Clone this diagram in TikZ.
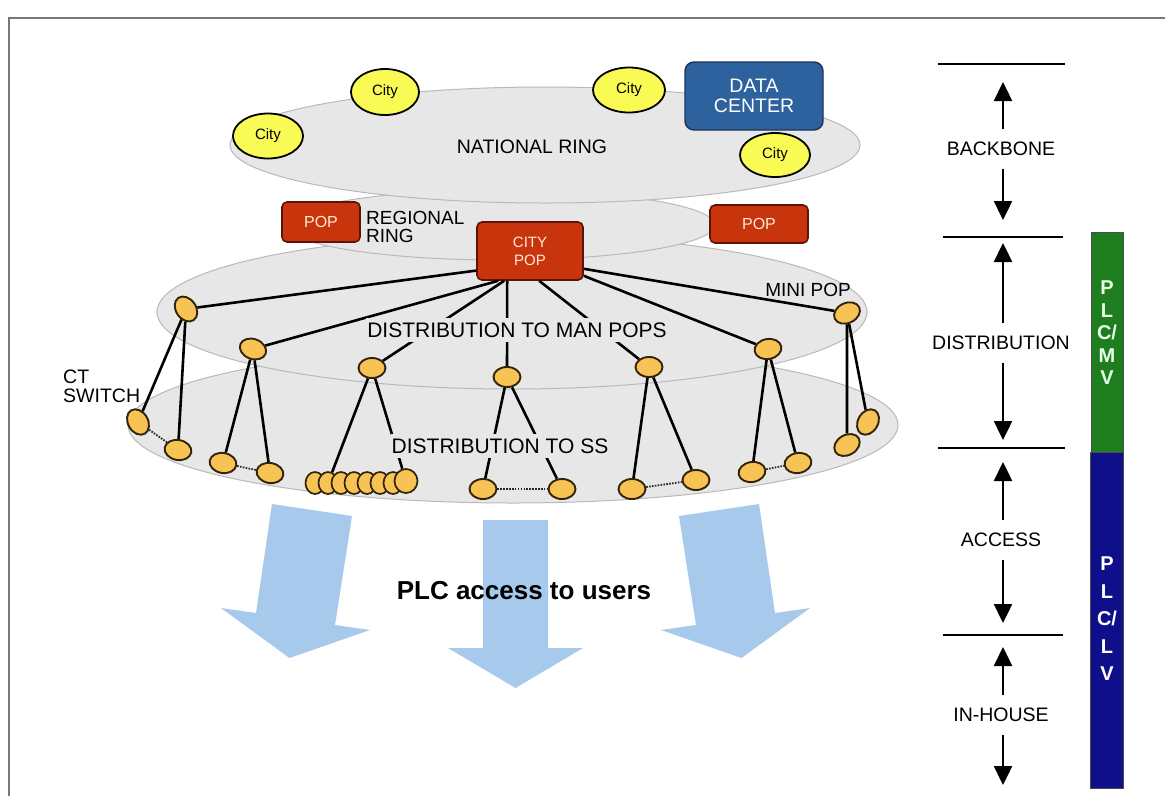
\documentclass[tikz,border=0pt]{standalone}
\usepackage{fontspec}
\setmainfont{Liberation Sans}
\usetikzlibrary{shapes.geometric,arrows.meta}
\definecolor{ringgray}{RGB}{231,231,231}
\definecolor{ringedge}{RGB}{185,185,185}
\definecolor{cityyellow}{RGB}{250,250,85}
\definecolor{popred}{RGB}{200,52,12}
\definecolor{popedge}{RGB}{90,20,10}
\definecolor{dcblue}{RGB}{46,98,158}
\definecolor{dcedge}{RGB}{30,50,90}
\definecolor{nodeorange}{RGB}{247,195,85}
\definecolor{nodeedge}{RGB}{50,35,10}
\definecolor{arrowblue}{RGB}{166,201,236}
\definecolor{mvgreen}{RGB}{30,125,30}
\definecolor{lvblue}{RGB}{15,15,140}
\definecolor{framegray}{RGB}{120,120,120}
\definecolor{popcream}{RGB}{255,235,215}
\tikzset{
  ring/.style={draw=ringedge, fill=ringgray, line width=1pt},
  city/.style={ellipse, draw=black, line width=1.8pt, fill=cityyellow, minimum width=70pt, minimum height=45pt, inner sep=0pt, font=\fontsize{15pt}{15pt}\selectfont},
  popbox/.style={rectangle, rounded corners=5pt, draw=popedge, line width=1.6pt, fill=popred, text=popcream, inner sep=0pt, align=center},
  dcbox/.style={rectangle, rounded corners=9pt, draw=dcedge, line width=1.4pt, fill=dcblue, text=white, inner sep=0pt, align=center, font=\fontsize{19.5pt}{20pt}\selectfont},
  mnode/.style={ellipse, draw=nodeedge, line width=1.9pt, fill=nodeorange, minimum width=27pt, minimum height=20pt, inner sep=0pt},
  cnode/.style={ellipse, draw=nodeedge, line width=1.7pt, fill=nodeorange, minimum width=19pt, minimum height=22pt, inner sep=0pt},
  conn/.style={line width=2.6pt, black},
  dotline/.style={line width=1.8pt, black!85, dash pattern=on 1.6pt off 1.3pt},
  lbl/.style={font=\fontsize{19.5pt}{19.5pt}\selectfont, inner sep=0pt},
  graylbl/.style={font=\fontsize{21pt}{21pt}\selectfont, fill=ringgray, inner xsep=1pt, inner ysep=5pt},
  layerlbl/.style={font=\fontsize{19.5pt}{19.5pt}\selectfont, inner xsep=2pt, inner ysep=13pt},
  layerarrow/.style={line width=2.4pt, -{Triangle[width=18pt,length=19pt]}},
  sepline/.style={line width=2.2pt, black},
  bartext/.style={text=white, font=\bfseries\fontsize{20pt}{22.5pt}\selectfont, align=center, inner sep=0pt}
}
\begin{document}
\begin{tikzpicture}[x=1pt,y=-1pt]
\useasboundingbox (0,0) rectangle (1165,796);
\fill[white] (0,0) rectangle (1165,796);
% frame
\draw[framegray, line width=2pt] (9,796) -- (9,18) -- (1165,18);

% rings (lowest first)
\draw[ring] (513,425) ellipse [x radius=385pt, y radius=78pt];
\draw[ring] (512,312) ellipse [x radius=355pt, y radius=77pt];
\draw[ring] (500,225) ellipse [x radius=215pt, y radius=35pt];
\draw[ring] (545,145) ellipse [x radius=315pt, y radius=58pt];

% backbone nodes
\node[city] (city1) at (268,136) {City};
\node[city, minimum width=68pt, minimum height=46pt] (city2) at (385,92) {City};
\node[city, minimum width=72pt] (city3) at (629,90) {City};
\node[city, minimum height=44pt] (city4) at (775,155) {City};
\node[dcbox, minimum width=138pt, minimum height=68pt] (dc) at (754,96) {DATA\\CENTER};
\node[lbl] (natl) at (532,147) {NATIONAL RING};

% regional
\node[popbox, minimum width=78pt, minimum height=40pt, font=\fontsize{16pt}{16pt}\selectfont] (popL) at (321,222) {POP};
\node[popbox, minimum width=98pt, minimum height=38pt, font=\fontsize{16pt}{16pt}\selectfont] (popR) at (759,224) {POP};
\node[lbl, font=\fontsize{19pt}{17.5pt}\selectfont, align=left, anchor=west] (regl) at (366,227) {REGIONAL\\RING};
\node[popbox, minimum width=106pt, minimum height=58pt, font=\fontsize{15pt}{18pt}\selectfont] (citypop) at (530,251) {CITY\\POP};

% distribution (MAN) nodes
\node[mnode, rotate=-55] (n1) at (186,309) {};
\node[mnode, rotate=-20] (n2) at (253,349) {};
\node[mnode] (n3) at (372,368) {};
\node[mnode] (n4) at (507,377) {};
\node[mnode] (n5) at (649,367) {};
\node[mnode, rotate=10] (n6) at (768,349) {};
\node[mnode, rotate=25] (n7) at (847,313) {};

% SS nodes
\node[mnode, rotate=-60] (s1) at (138,422) {};
\node[mnode, rotate=-10] (s2) at (178,450) {};
\node[mnode, rotate=-10] (s3) at (223,463) {};
\node[mnode, rotate=-10] (s4) at (270,473) {};
\foreach \i in {1,...,7}{
  \node[cnode] (c\i) at ({315+13*(\i-1)},483) {};
}
\node[cnode, minimum width=23pt, minimum height=24pt] (c8) at (406,481) {};
\node[mnode] (s5) at (483,489) {};
\node[mnode] (s6) at (562,489) {};
\node[mnode] (s7) at (632,489) {};
\node[mnode] (s8) at (696,480) {};
\node[mnode, rotate=10] (s9) at (752,472) {};
\node[mnode, rotate=10] (s10) at (798,463) {};
\node[mnode, rotate=30] (s11) at (847,445) {};
\node[mnode, rotate=60] (s12) at (868,422) {};

% city pop to MAN pops
\draw[conn] (citypop.200) -- (n1);
\draw[conn] ([xshift=22pt]citypop.south west) -- (n2);
\draw[conn] ([xshift=28pt]citypop.south west) -- (n3);
\draw[conn] ([xshift=31pt]citypop.south west) -- (n4);
\draw[conn] ([xshift=63pt]citypop.south west) -- (n5);
\draw[conn] ([yshift=5pt]citypop.south east) -- (n6);
\draw[conn] ([yshift=12pt]citypop.south east) -- (n7);

% MAN pops to SS
\draw[conn] (n1) -- (s1);
\draw[conn] (n1) -- (s2);
\draw[conn] (n2) -- (s3);
\draw[conn] (n2) -- (s4);
\draw[conn] (n3) -- (c2);
\draw[conn] (n3) -- (c8);
\draw[conn] (n4) -- (s5);
\draw[conn] (n4) -- (s6);
\draw[conn] (n5) -- (s7);
\draw[conn] (n5) -- (s8);
\draw[conn] (n6) -- (s9);
\draw[conn] (n6) -- (s10);
\draw[conn] (n7) -- (s11);
\draw[conn] (n7) -- (s12);

% dotted links
\draw[dotline] (s1) -- (s2);
\draw[dotline] (s3) -- (s4);
\draw[dotline] (s5) -- (s6);
\draw[dotline] (s7) -- (s8);
\draw[dotline] (s9) -- (s10);

% labels in rings
\node[graylbl] (dman) at (517,330) {DISTRIBUTION TO MAN POPS};
\node[graylbl] (dss) at (500,446) {DISTRIBUTION TO SS};
\node[lbl, font=\fontsize{19pt}{19pt}\selectfont] (minipop) at (808,290) {MINI POP};
\node[lbl, align=left, anchor=west, font=\fontsize{19.5pt}{19pt}\selectfont] (ctsw) at (63,386) {CT\\SWITCH};

% big access arrows
\fill[arrowblue] (272,504) -- (352,516) -- (335,625) -- (370,630) -- (289.5,658) -- (221,608) -- (256,613) -- cycle;
\fill[arrowblue] (483,520) -- (548,520) -- (548,648) -- (583,648) -- (515.5,688) -- (448,648) -- (483,648) -- cycle;
\fill[arrowblue] (759,504) -- (679,516) -- (696,625) -- (661,630) -- (741.5,658) -- (810,608) -- (775,613) -- cycle;
\node[font=\bfseries\fontsize{26pt}{26pt}\selectfont, inner sep=0pt] (plc) at (524,591) {PLC access to users};

% right column: layers
\coordinate (h1a) at (938,64);  \coordinate (h1b) at (1065,64);
\coordinate (h2a) at (943,237); \coordinate (h2b) at (1063,237);
\coordinate (h3a) at (938,448); \coordinate (h3b) at (1065,448);
\coordinate (h4a) at (943,635); \coordinate (h4b) at (1063,635);
\draw[sepline] (h1a) -- (h1b);
\draw[sepline] (h2a) -- (h2b);
\draw[sepline] (h3a) -- (h3b);
\draw[sepline] (h4a) -- (h4b);

\node[layerlbl] (bb) at (1001,149) {BACKBONE};
\node[layerlbl] (dist) at (1001,343) {DISTRIBUTION};
\node[layerlbl] (acc) at (1001,540) {ACCESS};
\node[layerlbl] (inh) at (1001,715) {IN-HOUSE};
\coordinate (bbu) at (1003,82);  \coordinate (bbd) at (1003,220);
\coordinate (diu) at (1003,243); \coordinate (did) at (1003,440);
\coordinate (acu) at (1003,462); \coordinate (acd) at (1003,623);
\coordinate (ihu) at (1003,647); \coordinate (ihd) at (1003,785);
\draw[layerarrow] (bb.north -| bbu) -- (bbu);
\draw[layerarrow] (bb.south -| bbd) -- (bbd);
\draw[layerarrow] (dist.north -| diu) -- (diu);
\draw[layerarrow] (dist.south -| did) -- (did);
\draw[layerarrow] (acc.north -| acu) -- (acu);
\draw[layerarrow] (acc.south -| acd) -- (acd);
\draw[layerarrow] (inh.north -| ihu) -- (ihu);
\draw[layerarrow] (inh.south -| ihd) -- (ihd);

% PLC bars
\draw[fill=mvgreen, draw=black!70, line width=1pt] (1091,232) rectangle (1123,452);
\draw[fill=lvblue, draw=black!70, line width=1pt] (1090,452) rectangle (1123,788);
\node[bartext, text=white!90!green] (mv) at (1107,333) {P\\L\\C/\\M\\V};
\node[bartext, font=\bfseries\fontsize{20pt}{27.5pt}\selectfont] (lv) at (1107,619) {P\\L\\C/\\L\\V};
\end{tikzpicture}
\end{document}
